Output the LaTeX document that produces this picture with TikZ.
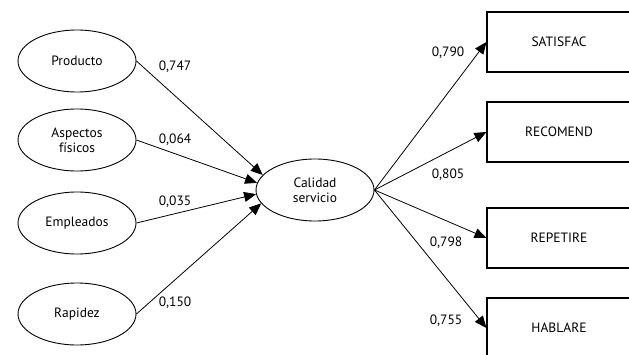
\documentclass[tikz,border=0pt]{standalone}
\usepackage{fontspec}
\setmainfont{PT Sans}
\usetikzlibrary{positioning, shapes.geometric, arrows.meta}

\begin{document}
\begin{tikzpicture}[x=1pt, y=1pt,
        latent/.style={ellipse, draw, line width=0.9pt, minimum width=118pt, minimum height=62pt, align=center, font=\fontsize{13.5}{15}\selectfont, inner sep=0pt},
        indicator/.style={rectangle, draw, line width=1.1pt, minimum width=144pt, minimum height=60pt, font=\fontsize{13.5}{15}\selectfont},
        path_arrow/.style={draw, line width=0.8pt, -{Triangle[length=12pt, width=10pt]}},
        weight/.style={font=\fontsize{13.5}{15}\selectfont, inner sep=0pt}
    ]
        \clip (0,0) rectangle (629,354);
        \fill[white] (0,0) rectangle (629,354);

        % Exogenous factors (left)
        \node[latent] (prod) at (77, 293) {Producto};
        \node[latent] (asp) at (77, 214) {Aspectos\\físicos};
        \node[latent] (emp) at (77, 131) {Empleados};
        \node[latent] (rap) at (77, 40) {Rapidez};

        % Central construct
        \node[latent] (cal) at (315, 164) {Calidad\\servicio};

        % Indicators (right)
        \node[indicator] (sat) at (559, 312) {SATISFAC};
        \node[indicator] (rec) at (559, 222) {RECOMEND};
        \node[indicator] (rep) at (559, 116) {REPETIRE};
        \node[indicator] (hab) at (559, 26) {HABLARE};

        % Structural paths
        \draw[path_arrow] (prod.east) -- (cal.164);
        \draw[path_arrow] (asp.east) -- (cal.173);
        \draw[path_arrow] (emp.east) -- (cal.184);
        \draw[path_arrow] (rap.east) -- (cal.194);

        % Measurement paths
        \draw[path_arrow] (cal.east) -- (sat.west);
        \draw[path_arrow] (cal.east) -- (rec.west);
        \draw[path_arrow] (cal.east) -- (rep.west);
        \draw[path_arrow] (cal.east) -- (hab.west);

        % Coefficients
        \node[weight] (w1) at (175, 287) {0,747};
        \node[weight] (w2) at (175, 214) {0,064};
        \node[weight] (w3) at (175, 152) {0,035};
        \node[weight] (w4) at (175, 51) {0,150};
        \node[weight] (w5) at (448, 301) {0,790};
        \node[weight] (w6) at (448, 179) {0,805};
        \node[weight] (w7) at (446, 111) {0,798};
        \node[weight] (w8) at (446, 33) {0,755};

    \end{tikzpicture}
\end{document}
